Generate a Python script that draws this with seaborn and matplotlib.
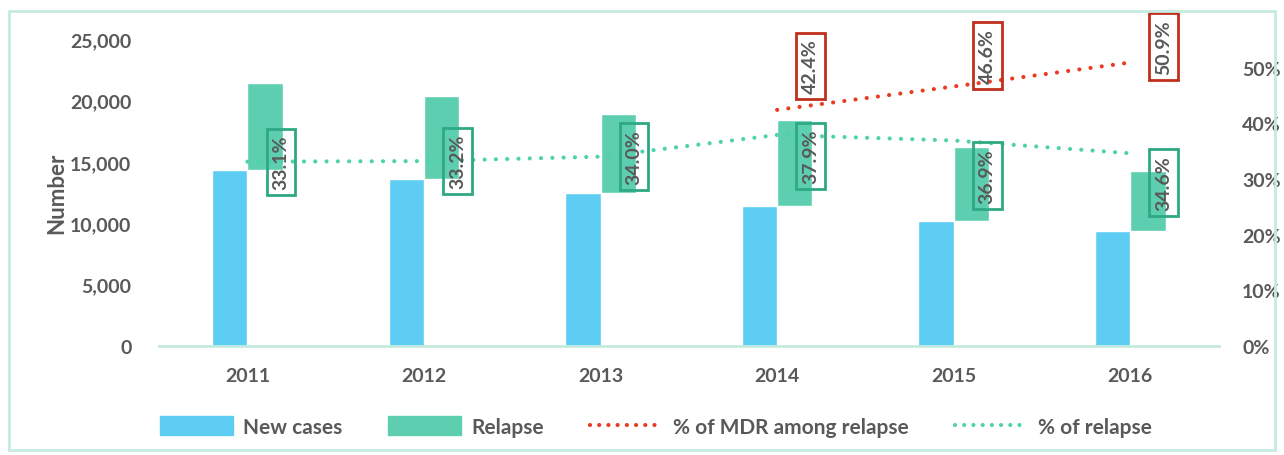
import numpy as np
import pandas as pd
import matplotlib
matplotlib.use('Agg')
import matplotlib.pyplot as plt
import seaborn as sns
from matplotlib.patches import Patch, Rectangle
from matplotlib.lines import Line2D
from matplotlib.ticker import FuncFormatter, PercentFormatter

years = ['2011', '2012', '2013', '2014', '2015', '2016']
new_cases = [14350, 13570, 12460, 11430, 10220, 9340]
relapse = [7110, 6760, 6430, 6970, 5980, 4930]
pct_relapse = [33.1, 33.2, 34.0, 37.9, 36.9, 34.6]
mdr_years = ['2014', '2015', '2016']
pct_mdr = [42.4, 46.6, 50.9]

# label nudges (pixels) as in the original
relapse_lab_dy = [0, 0, 0, -21, -35, -29]
mdr_lab_dy = [44, 31, 16]

c_blue = '#5ECDF3'
c_green = '#5DCFB0'
c_red = '#EA3A22'
c_gline = '#4ED2AA'
c_gbox = '#2EA983'
c_rbox = '#C0301C'
c_text = '#595959'
c_axis = '#C3EBE0'

sns.set_theme(style='white')
plt.rcParams['font.family'] = ['Lato', 'DejaVu Sans']
plt.rcParams['font.weight'] = 'bold'

df = pd.DataFrame({'year': years, 'new': new_cases, 'relapse': relapse,
                   'pct': pct_relapse})
df['pos'] = np.arange(len(df))
mdr = pd.DataFrame({'year': mdr_years, 'pct': pct_mdr})
mdr['pos'] = [years.index(y) for y in mdr_years]

fig = plt.figure(figsize=(12.84, 4.56), dpi=100)
ax = fig.add_axes([0.124, 0.239, 0.825, 0.673])
ax2 = ax.twinx()

w = 0.2
ax.bar(df['pos'] - w, df['new'], width=w, align='edge', color=c_blue, zorder=2)
ax.bar(df['pos'], df['relapse'], bottom=df['new'], width=w, align='edge',
       color=c_green, zorder=2)

sns.lineplot(data=df, x='pos', y='pct', ax=ax2, color=c_gline, lw=3)
sns.lineplot(data=mdr, x='pos', y='pct', ax=ax2, color=c_red, lw=3)
for l in ax2.lines:
    l.set_dashes((0.01, 2.7))
    l.set_dash_capstyle('round')

def lab(x, y, dy, ec):
    ax2.annotate(f'{y:.1f}%', (x + 0.19, y), xytext=(0, dy),
                 textcoords='offset pixels', rotation=90, ha='center',
                 va='center', fontsize=14, color=c_text, fontweight='bold',
                 bbox=dict(boxstyle='square,pad=0.3', fc='none', ec=ec, lw=2))

for x, y, dy in zip(df['pos'], df['pct'], relapse_lab_dy):
    lab(x, y, dy, c_gbox)
for x, y, dy in zip(mdr['pos'], mdr['pct'], mdr_lab_dy):
    lab(x, y, dy, c_rbox)

ax.set_xlim(-0.5, 5.5)
ax.set_ylim(0, 25000)
ax.set_yticks(range(0, 25001, 5000))
ax.yaxis.set_major_formatter(FuncFormatter(lambda v, p: f'{int(v):,}'))
ax.set_xticks(df['pos'])
ax.set_xticklabels(years)
ax2.set_ylim(0, 55.1)
ax2.set_yticks(range(0, 51, 10))
ax2.yaxis.set_major_formatter(PercentFormatter(decimals=0))
ax2.set_xlabel('')
ax2.set_ylabel('')
ax.set_ylabel('Number', fontsize=16, color=c_text, fontweight='bold', labelpad=2)

for a in (ax, ax2):
    for s in a.spines.values():
        s.set_visible(False)
    a.tick_params(length=0, labelsize=14, labelcolor=c_text)
ax.spines['bottom'].set_visible(True)
ax.spines['bottom'].set_color(c_axis)
ax.spines['bottom'].set_linewidth(2)
ax.tick_params(axis='y', pad=20)
ax.tick_params(axis='x', pad=15)
ax2.tick_params(axis='y', pad=17)
for t in ax.get_xticklabels() + ax.get_yticklabels() + ax2.get_yticklabels():
    t.set_fontweight('bold')

handles = [Patch(color=c_blue, label='New cases'),
           Patch(color=c_green, label='Relapse'),
           Line2D([], [], color=c_red, lw=3, dashes=(0.01, 2.2),
                  dash_capstyle='round', label='% of MDR among relapse'),
           Line2D([], [], color=c_gline, lw=3, dashes=(0.01, 2.2),
                  dash_capstyle='round', label='% of relapse')]
leg = fig.legend(handles=handles, loc='center', bbox_to_anchor=(0.511, 0.062),
                 ncol=4, frameon=False, fontsize=15, handlelength=3.5,
                 handleheight=1.0, handletextpad=0.5, columnspacing=2.2)
for t in leg.get_texts():
    t.set_color(c_text)
    t.set_fontweight('bold')

fig.patches.append(Rectangle((0.007, 0.01), 0.986, 0.964, transform=fig.transFigure,
                             fill=False, ec=c_axis, lw=2))

fig.savefig('out.png', dpi=100)
